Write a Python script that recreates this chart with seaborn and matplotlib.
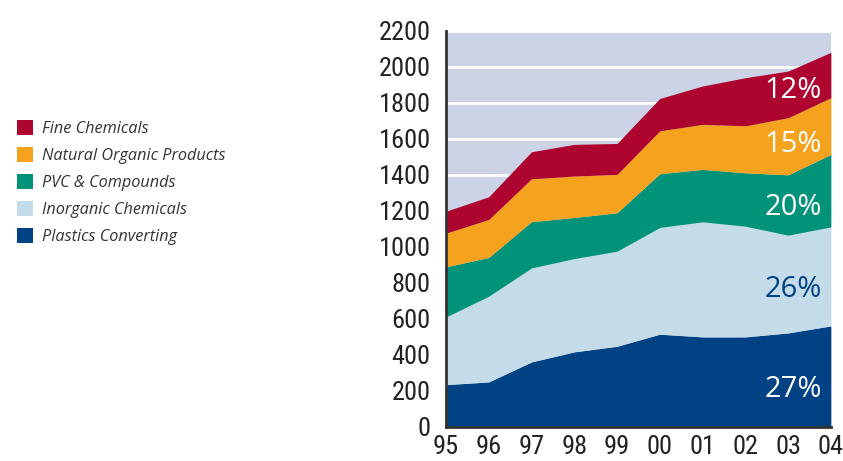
import matplotlib
matplotlib.use("Agg")
import matplotlib.pyplot as plt
import seaborn as sns
import numpy as np
from matplotlib.patches import Patch

years = ["95", "96", "97", "98", "99", "00", "01", "02", "03", "04"]
plastics = [235, 250, 361, 417, 448, 515, 500, 500, 522, 561]
inorganic = [376, 476, 522, 518, 528, 593, 639, 615, 543, 550]
pvc = [278, 215, 257, 228, 213, 298, 291, 296, 335, 402]
natural = [187, 211, 238, 230, 213, 238, 250, 261, 317, 315]
fine = [122, 126, 150, 176, 172, 180, 213, 267, 259, 252]

series_names = ["Plastics Converting", "Inorganic Chemicals", "PVC & Compounds",
                "Natural Organic Products", "Fine Chemicals"]
colors = ["#004283", "#C4DCE9", "#00937A", "#F5A31E", "#AE0530"]
share_labels = ["27%", "26%", "20%", "15%", "12%"]
share_colors = ["white", "#004283", "white", "white", "white"]
y_ticks = list(range(0, 2201, 200))

sns.set_theme(style="white")
plt.rcParams["font.family"] = ["Roboto Condensed", "Liberation Sans Narrow", "DejaVu Sans"]

fig = plt.figure(figsize=(8.43, 4.61), dpi=100)
ax = fig.add_axes([0.529, 0.0738, 0.4566, 0.8596])
ax.set_facecolor("#CDD3E6")

x = np.arange(len(years))
data = [plastics, inorganic, pvc, natural, fine]
ax.stackplot(x, *data, colors=colors, linewidth=0, zorder=2)

ax.set_xlim(0, len(years) - 1)
ax.set_ylim(0, 2200)
ax.set_yticks(y_ticks)
ax.set_yticklabels([str(v) for v in y_ticks])
ax.set_xticks(x)
ax.set_xticklabels(years)
ax.yaxis.grid(True, color="white", linewidth=2, zorder=1)
ax.set_axisbelow(True)
ax.tick_params(axis="both", length=0, labelsize=19, colors="#222222")
ax.tick_params(axis="y", pad=11)
ax.tick_params(axis="x", pad=6)

for s in ["top", "right"]:
    ax.spines[s].set_visible(False)
for s in ["left", "bottom"]:
    ax.spines[s].set_color("#333333")
    ax.spines[s].set_linewidth(2)

# share labels (right-aligned near the last year)
label_y = [0.095, 0.348, 0.553, 0.713, 0.848]
for lab, col, yy in zip(share_labels, share_colors, label_y):
    ax.text(0.977, yy, lab, transform=ax.transAxes, ha="right", va="center",
            fontsize=21, color=col, family=["Open Sans", "DejaVu Sans"], zorder=5)

# legend
handles = [Patch(facecolor=c, edgecolor="none", label=n)
           for n, c in zip(series_names[::-1], colors[::-1])]
leg = fig.legend(handles=handles, loc="upper left", bbox_to_anchor=(0.003, 0.7705),
                 frameon=False, handlelength=1.0, handleheight=1.0,
                 labelspacing=0.62, handletextpad=0.55,
                 prop={"family": ["Open Sans", "DejaVu Sans"], "style": "italic",
                       "size": 11.7})
for t in leg.get_texts():
    t.set_color("#333333")

fig.savefig("out.png", dpi=100)
